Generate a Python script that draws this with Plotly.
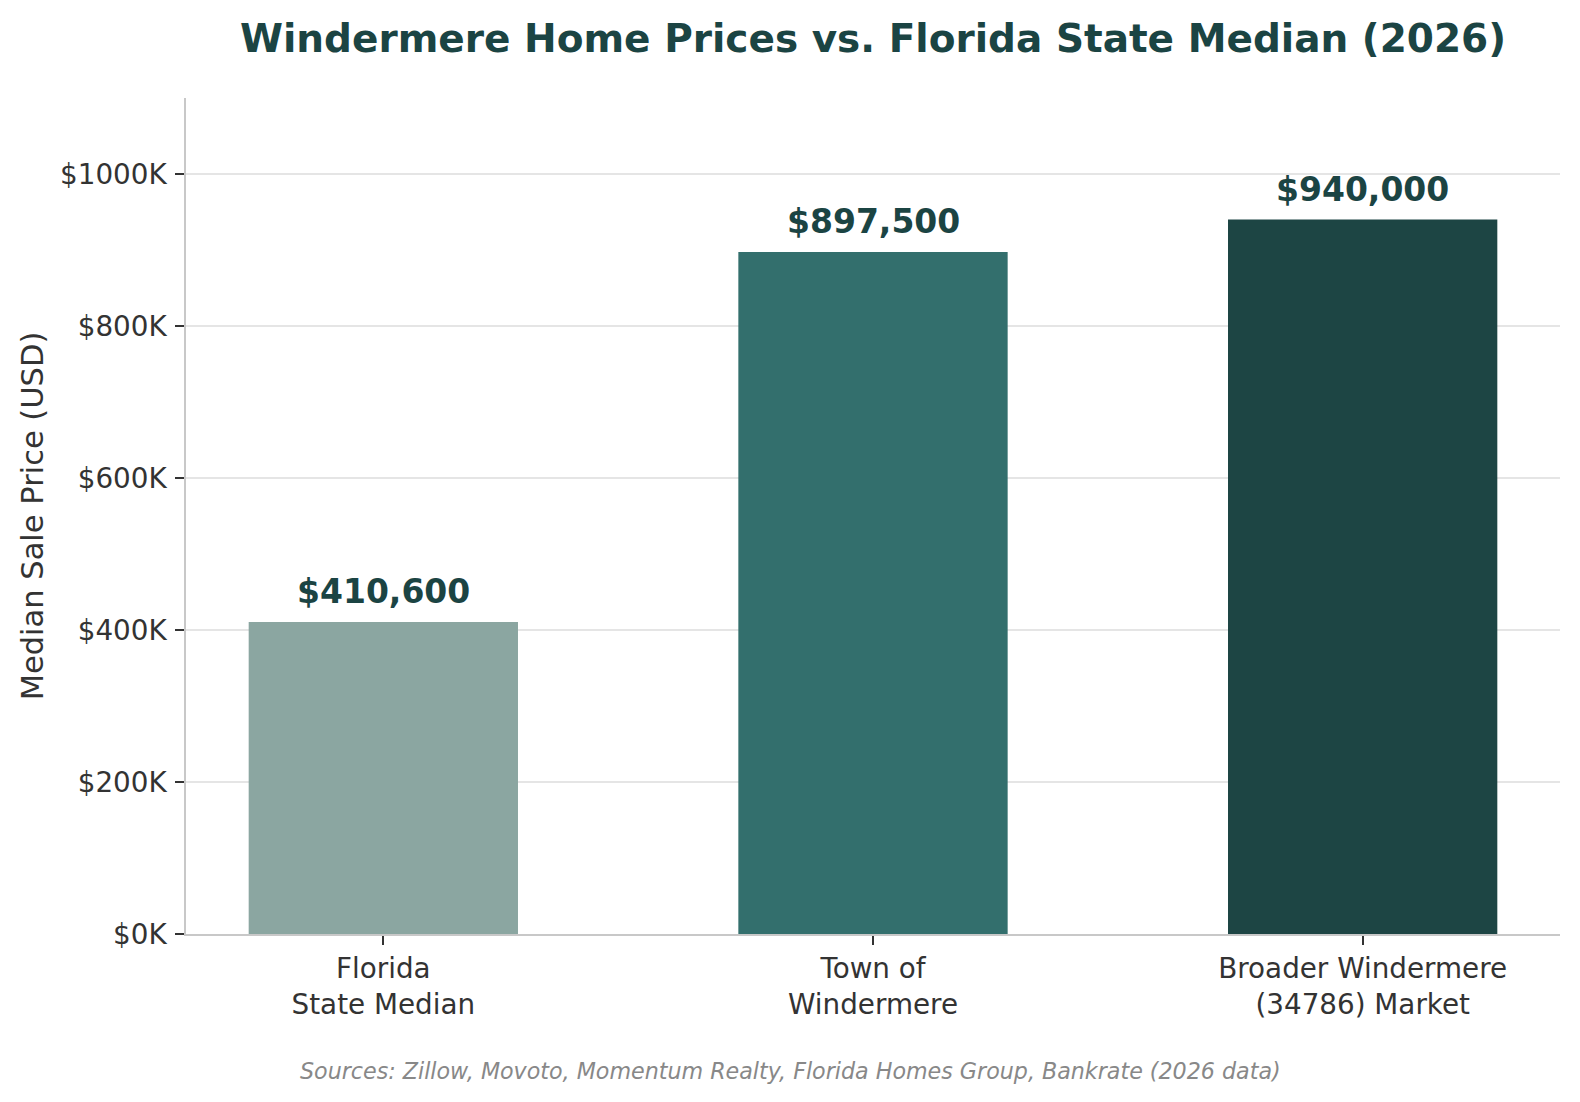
import plotly.graph_objects as go

categories = ["Florida<br>State Median", "Town of<br>Windermere", "Broader Windermere<br>(34786) Market"]
prices = [410600, 897500, 940000]
bar_colors = ["#8BA6A1", "#336F6D", "#1D4544"]
tick_values = [0, 200000, 400000, 600000, 800000, 1000000]
tick_labels = ["$0K", "$200K", "$400K", "$600K", "$800K", "$1000K"]
source_note = "Sources: Zillow, Movoto, Momentum Realty, Florida Homes Group, Bankrate (2026 data)"

dark = "#1B4443"
font_family = "DejaVu Sans"

fig = go.Figure()
fig.add_trace(go.Bar(
    x=categories,
    y=prices,
    width=0.55,
    marker=dict(color=bar_colors, line=dict(width=0)),
    hoverinfo="skip",
))

# value labels above bars
for cat, val in zip(categories, prices):
    fig.add_annotation(
        x=cat, y=val, text=f"<b>${val:,}</b>",
        showarrow=False, yanchor="middle", yshift=30,
        font=dict(family=font_family, size=33, color=dark),
    )

fig.add_annotation(
    text=source_note, xref="paper", yref="paper",
    x=0.4397, y=-0.1636, showarrow=False, xanchor="center", yanchor="middle",
    font=dict(family=font_family, size=22.2, color="#888888", style="italic"),
)

fig.update_layout(
    width=1580,
    height=1102,
    paper_bgcolor="white",
    plot_bgcolor="white",
    showlegend=False,
    margin=dict(l=186, r=20, t=98, b=168),
    title=dict(
        text="<b>Windermere Home Prices vs. Florida State Median (2026)</b>",
        x=0.5, xref="paper", y=1 - 38 / 1102, yref="container",
        xanchor="center", yanchor="middle",
        font=dict(family=font_family, size=39, color=dark),
    ),
    font=dict(family=font_family, color="#333333"),
)

fig.update_xaxes(
    range=[-0.403, 2.403],
    showline=True, linecolor="#C8C8C8", linewidth=1.5,
    ticks="outside", ticklen=9, tickwidth=1.5, tickcolor="#333333",
    tickfont=dict(size=27.8, color="#333333"),
    showgrid=False, zeroline=False,
)

fig.update_yaxes(
    range=[0, 1100000],
    tickvals=tick_values, ticktext=tick_labels,
    showline=True, linecolor="#C8C8C8", linewidth=1.5,
    ticks="outside", ticklen=9, tickwidth=1.5, tickcolor="#333333",
    ticklabelstandoff=3,
    tickfont=dict(size=27.8, color="#333333"),
    showgrid=True, gridcolor="#E5E5E5", gridwidth=1.5,
    zeroline=False,
    title=dict(text="Median Sale Price (USD)", font=dict(size=30.5, color="#333333"), standoff=7),
)

fig.write_html(
    "out.html",
    config={"displayModeBar": False},
    post_script="document.body.style.margin='0';document.body.style.overflow='hidden';",
)
